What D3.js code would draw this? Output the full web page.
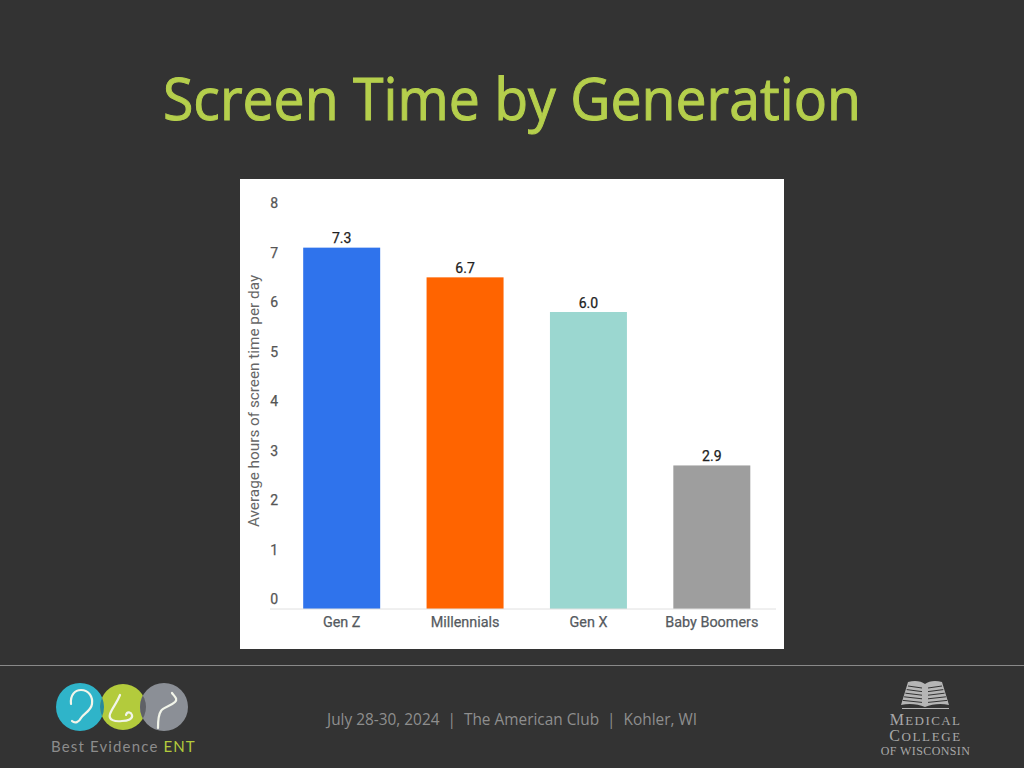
<!DOCTYPE html>
<html>
<head>
<meta charset="utf-8">
<script src="https://cdn.jsdelivr.net/npm/d3@7"></script>
<style>
  html, body { margin: 0; padding: 0; background: #333333; }
  svg { display: block; }
</style>
</head>
<body>
<svg id="slide" width="1024" height="768"></svg>
<script>
// Chart data
let generations = ["Gen Z", "Millennials", "Gen X", "Baby Boomers"];
let hours = [7.3, 6.7, 6.0, 2.9];
let barColors = ["#2f73ec", "#ff6400", "#9bd7d0", "#9e9e9e"];
let yTicks = [0, 1, 2, 3, 4, 5, 6, 7, 8];

let svg = d3.select("#slide");

// Slide title
svg.append("text")
  .attr("x", 512)
  .attr("y", 120)
  .attr("text-anchor", "middle")
  .attr("font-family", "Open Sans")
  .attr("font-size", 58)
  .attr("fill", "#b5cf4c")
  .attr("stroke", "#b5cf4c")
  .attr("stroke-width", 1)
  .attr("textLength", 698)
  .attr("lengthAdjust", "spacingAndGlyphs")
  .text("Screen Time by Generation");

// White chart panel
svg.append("rect")
  .attr("x", 240)
  .attr("y", 179)
  .attr("width", 544)
  .attr("height", 470)
  .attr("fill", "#ffffff");

// Scales
let x = d3.scaleBand()
  .domain(generations)
  .range([280, 773.5])
  .paddingInner(0.376)
  .paddingOuter(0.188);
let y = d3.scaleLinear()
  .domain([0, 8])
  .range([609, 213]);

let g = svg.append("g").attr("class", "chart");

// Bars
g.selectAll("rect.bar")
  .data(hours)
  .enter()
  .append("rect")
    .attr("class", "bar")
    .attr("x", (d, i) => x(generations[i]))
    .attr("y", d => y(d))
    .attr("width", x.bandwidth())
    .attr("height", d => y(0) - y(d))
    .attr("fill", (d, i) => barColors[i]);

// Value labels
g.selectAll("text.value")
  .data(hours)
  .enter()
  .append("text")
    .attr("class", "value")
    .attr("x", (d, i) => x(generations[i]) + x.bandwidth() / 2)
    .attr("y", d => y(d) - 4.5)
    .attr("text-anchor", "middle")
    .attr("font-family", "Roboto")
    .attr("font-size", 14)
    .attr("fill", "#212121")
    .attr("stroke", "#212121")
    .attr("stroke-width", 0.25)
    .text(d => d.toFixed(1));

// Y axis: labels only, they sit above the tick position
let yAxis = g.append("g")
  .attr("class", "axis axis_y")
  .attr("transform", "translate(278,-9.5)")
  .call(d3.axisLeft(y).tickValues(yTicks).tickSize(0).tickPadding(0).tickFormat(d3.format("d")));
yAxis.select(".domain").remove();
yAxis.selectAll("text")
  .attr("font-family", "Roboto")
  .attr("font-size", 14)
  .attr("fill", "#555555")
  .attr("stroke", "#555555")
  .attr("stroke-width", 0.25);

// X axis
let xAxis = g.append("g")
  .attr("class", "axis axis_x")
  .attr("transform", "translate(0,609)")
  .call(d3.axisBottom(x).tickSize(0).tickPadding(8));
xAxis.select(".domain").remove();
xAxis.selectAll("text")
  .attr("font-family", "Roboto")
  .attr("font-size", 14.4)
  .attr("fill", "#555a60")
  .attr("stroke", "#555a60")
  .attr("stroke-width", 0.25);
g.append("line")
  .attr("x1", 270)
  .attr("x2", 776)
  .attr("y1", 609)
  .attr("y2", 609)
  .attr("stroke", "#e0e0e0")
  .attr("stroke-width", 1);

// Y axis title
g.append("text")
  .attr("transform", "translate(259,401) rotate(-90)")
  .attr("text-anchor", "middle")
  .attr("font-family", "Roboto")
  .attr("font-size", 15.3)
  .attr("fill", "#666666")
  .text("Average hours of screen time per day");

// Footer rule and conference line
svg.append("line")
  .attr("x1", 0)
  .attr("x2", 1024)
  .attr("y1", 665.5)
  .attr("y2", 665.5)
  .attr("stroke", "#8a8a8a")
  .attr("stroke-width", 1);

svg.append("text")
  .attr("x", 512)
  .attr("y", 725)
  .attr("text-anchor", "middle")
  .attr("font-family", "Open Sans")
  .attr("font-size", 16.5)
  .attr("fill", "#8e8e8e")
  .attr("textLength", 370)
  .attr("lengthAdjust", "spacingAndGlyphs")
  .attr("xml:space", "preserve")
  .text("July 28-30, 2024  |  The American Club  |  Kohler, WI");

// Best Evidence ENT logo
let defs = svg.append("defs");
defs.append("clipPath").attr("id", "clip-green")
  .append("circle").attr("cx", 123).attr("cy", 707).attr("r", 23);
let logo = svg.append("g").attr("class", "logo");
logo.append("circle").attr("cx", 80).attr("cy", 707).attr("r", 24).attr("fill", "#2fb4c9");
logo.append("circle").attr("cx", 123).attr("cy", 707).attr("r", 23).attr("fill", "#b3cb3c");
logo.append("circle").attr("cx", 164).attr("cy", 707).attr("r", 24).attr("fill", "#8b8f96");
logo.append("circle").attr("cx", 80).attr("cy", 707).attr("r", 24)
  .attr("fill", "#278a9c").attr("clip-path", "url(#clip-green)");
logo.append("circle").attr("cx", 164).attr("cy", 707).attr("r", 24)
  .attr("fill", "#5f6166").attr("clip-path", "url(#clip-green)");
let logoLines = [
  "M71,704 C70,695 75,690 81,690 C89,690 93,697 92,704 C91,711 84,713 81,718 C79,722 75,724 72,721",
  "M120,695 C117,703 112,708 110,714 C108,720 115,722 122,721 C128,721 133,719 132,715 C131,712 127,711 126,715",
  "M172,693 C175,697 178,699 175,702 C171,706 163,707 161,711 C158,715 158,721 158,728"
];
logo.selectAll("path.line")
  .data(logoLines)
  .enter()
  .append("path")
    .attr("class", "line")
    .attr("d", d => d)
    .attr("fill", "none")
    .attr("stroke", "#f2f5ea")
    .attr("stroke-width", 2.2)
    .attr("stroke-linecap", "round");
let logoText = logo.append("text")
  .attr("x", 51)
  .attr("y", 752)
  .attr("font-family", "Lato")
  .attr("font-size", 15)
  .attr("letter-spacing", 1.15)
  .attr("fill", "#8c8c8c")
  .text("Best Evidence ");
logoText.append("tspan").attr("fill", "#b3cb3c").text("ENT");

// Medical College of Wisconsin mark
let mcw = svg.append("g").attr("class", "mcw").attr("fill", "#b5b5b5");
mcw.append("path")
  .attr("d", "M908,682 C915,680 921,681 925,684 C929,681 935,680 942,682 L949,705 C941,703 932,704 925,707 C918,704 909,703 901,705 Z");
d3.range(5).forEach(i => {
  mcw.append("path")
    .attr("d", "M" + (908 - i * 1.3) + "," + (686 + i * 3.6) + " L922," + (688 + i * 3.6) + " M" + (928) + "," + (688 + i * 3.6) + " L" + (942 + i * 1.3) + "," + (686 + i * 3.6))
    .attr("stroke", "#333333")
    .attr("stroke-width", 1)
    .attr("fill", "none");
});
mcw.append("rect").attr("x", 902).attr("y", 708).attr("width", 47).attr("height", 1);
let mcwLines = [
  { a: "M", b: "EDICAL", y: 725, big: 16, small: 13, gap: 1.4 },
  { a: "C", b: "OLLEGE", y: 741, big: 16, small: 13, gap: 1.6 },
  { a: "", b: "OF WISCONSIN", y: 755, big: 12, small: 12, gap: 0.4 }
];
mcwLines.forEach(l => {
  let t = mcw.append("text")
    .attr("x", 925.5)
    .attr("y", l.y)
    .attr("text-anchor", "middle")
    .attr("font-family", "Liberation Serif")
    .attr("font-size", l.small)
    .attr("letter-spacing", l.gap)
    .attr("fill", "#a8a8a8");
  if (l.a) t.append("tspan").attr("font-size", l.big).text(l.a);
  t.append("tspan").text(l.b);
});
</script>
</body>
</html>
